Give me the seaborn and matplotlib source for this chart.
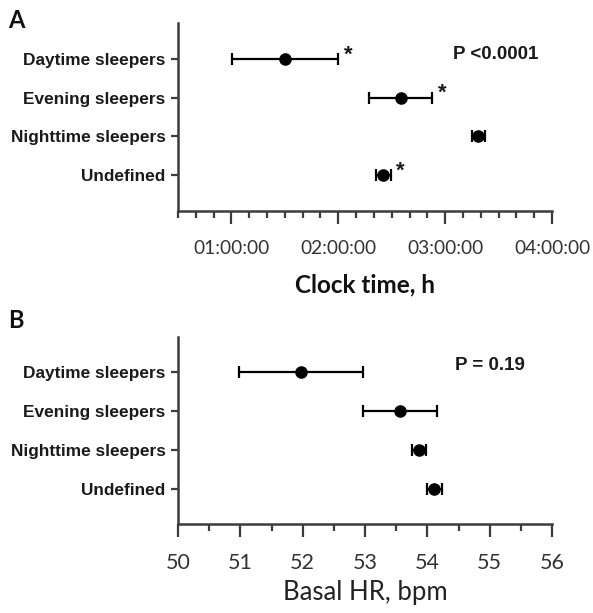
import numpy as np
import pandas as pd
import matplotlib
matplotlib.use("Agg")
import matplotlib.pyplot as plt
from matplotlib.ticker import MultipleLocator, FuncFormatter
import seaborn as sns

sns.set_theme(style="white")
plt.rcParams['font.family'] = ['Liberation Sans', 'DejaVu Sans']

categories = ["Daytime sleepers", "Evening sleepers", "Nighttime sleepers", "Undefined"]

# Panel A: clock time in hours
clock_mean = [1.50, 2.59, 3.31, 2.42]
clock_low = [1.01, 2.29, 3.25, 2.35]
clock_high = [2.00, 2.88, 3.37, 2.49]
clock_star = [True, True, False, True]
clock_p = "P <0.0001"

# Panel B: basal HR, bpm
hr_mean = [51.98, 53.56, 53.87, 54.11]
hr_low = [50.98, 52.97, 53.75, 53.99]
hr_high = [52.96, 54.15, 53.98, 54.24]
hr_p = "P = 0.19"

W, H = 593, 613
fig = plt.figure(figsize=(W / 100, H / 100), dpi=100)

AX_COL = "#3c3c3c"
TICK_COL = "#333333"


def panel(rect, mean, low, high, xlim, major, minor, fmt, xlabel, xlabel_kw, ylim,
          ptext, pxy, ticksize, tickpad, stars=None):
    ax = fig.add_axes(rect)
    df = pd.DataFrame({"cat": categories, "mean": mean, "low": low, "high": high})
    pos = np.arange(len(categories))
    mean_a = np.array(mean)
    ax.errorbar(mean_a, pos, xerr=[mean_a - np.array(low), np.array(high) - mean_a],
                fmt="none", ecolor="black", elinewidth=1.6, capsize=4.3, capthick=1.6, zorder=2)
    sns.scatterplot(data=df, x="mean", y="cat", ax=ax, color="black", s=82,
                    edgecolor="black", linewidth=0, zorder=3, legend=False)
    ax.set_xlim(*xlim)
    ax.set_ylim(*ylim)
    ax.set_yticks(pos)
    ax.set_yticklabels(categories, fontweight="bold", fontsize=12.4, color="#1a1a1a")
    ax.xaxis.set_major_locator(MultipleLocator(major))
    ax.xaxis.set_minor_locator(MultipleLocator(minor))
    ax.xaxis.set_major_formatter(FuncFormatter(fmt))
    for lab in ax.get_xticklabels():
        lab.set_family(["Lato", "DejaVu Sans"])
    ax.tick_params(axis="x", which="major", direction="out", length=9, width=1.6,
                   color=AX_COL, labelsize=ticksize, labelcolor=TICK_COL, pad=tickpad, bottom=True)
    ax.tick_params(axis="x", which="minor", direction="out", length=5, width=1.6,
                   color=AX_COL, bottom=True)
    ax.tick_params(axis="y", which="major", direction="out", length=5, width=1.6,
                   color=AX_COL, pad=4, left=True)
    for s in ["top", "right"]:
        ax.spines[s].set_visible(False)
    for s in ["left", "bottom"]:
        ax.spines[s].set_color(AX_COL)
        ax.spines[s].set_linewidth(1.8)
    ax.set_xlabel(xlabel, **xlabel_kw)
    ax.set_ylabel("")
    ax.grid(False)
    ax.text(pxy[0], pxy[1], ptext, transform=ax.transAxes, fontsize=13.5,
            fontweight="bold", color="#1a1a1a", ha="left", va="center")
    if stars is not None:
        for i, st in enumerate(stars):
            if st:
                ax.annotate("*", xy=(high[i], pos[i]), xytext=(4, 3), textcoords="offset points",
                            fontsize=16, fontweight="bold", ha="left", va="center", color="#1a1a1a")
    return ax


def fmt_clock(v, _):
    return "%02d:00:00" % int(round(v))


def fmt_hr(v, _):
    return "%d" % int(round(v))


axA = panel([178 / W, 1 - 211 / H, 374 / W, 188 / H], clock_mean, clock_low, clock_high,
            (0.5, 4.0), 1.0, 1 / 6, fmt_clock, "Clock time, h",
            dict(fontsize=17.5, fontweight="bold", family=["Lato", "DejaVu Sans"],
                 color="#111111", labelpad=12),
            (3.93, -0.93), clock_p, (0.735, 0.83), 13.8, 12, stars=clock_star)

axB = panel([178 / W, 1 - 524 / H, 374 / W, 187 / H], hr_mean, hr_low, hr_high,
            (50, 56), 1.0, 0.5, fmt_hr, "Basal HR, bpm",
            dict(fontsize=18.5, family=["Lato", "DejaVu Sans"], color="#222222", labelpad=5),
            (3.9, -0.9), hr_p, (0.74, 0.85), 15.5, 12)

fig.text(8 / W, 1 - 20 / H, "A", fontsize=17, fontweight="bold",
         family=["Lato", "DejaVu Sans"], va="center", ha="left", color="#111111")
fig.text(8 / W, 1 - 320 / H, "B", fontsize=17, fontweight="bold",
         family=["Lato", "DejaVu Sans"], va="center", ha="left", color="#111111")

fig.savefig("out.png", dpi=100)
